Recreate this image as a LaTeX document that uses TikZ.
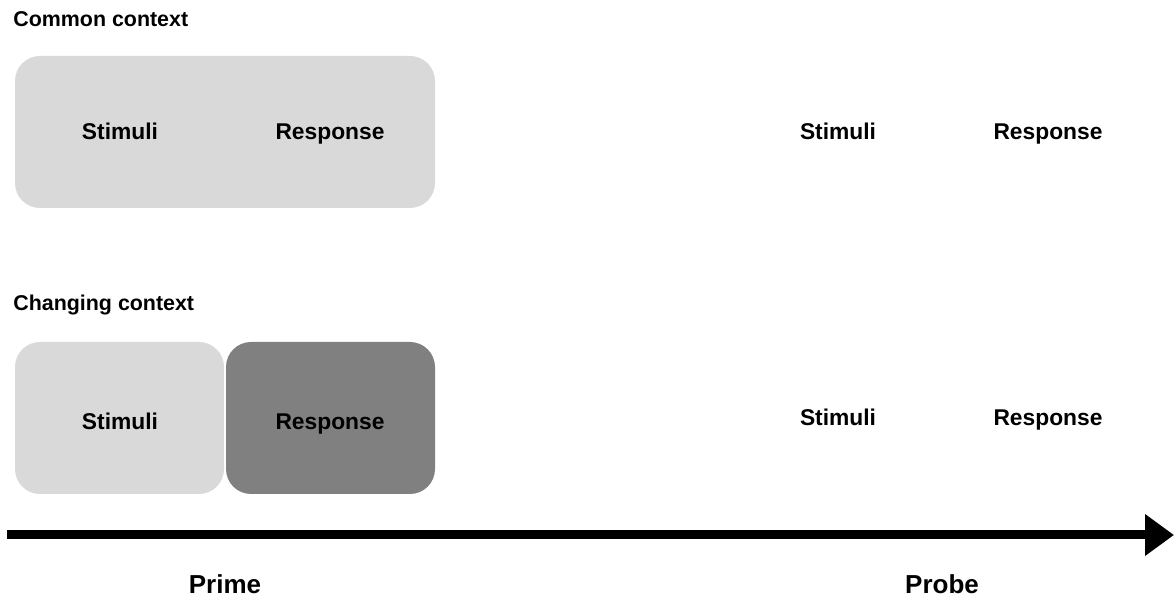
\documentclass[tikz,border=0pt]{standalone}
\usepackage{fontspec}
\setmainfont{Liberation Sans}
\usetikzlibrary{arrows.meta}

\begin{document}
\begin{tikzpicture}[x=0.5pt,y=-0.5pt,
  lbl/.style={font=\bfseries\fontsize{11.4}{13}\selectfont,inner sep=0,text height=8.2pt,text depth=2.4pt},
  ttl/.style={font=\bfseries\fontsize{10.7}{13}\selectfont,inner sep=0,anchor=west,text height=7.7pt,text depth=2.2pt},
  axl/.style={font=\bfseries\fontsize{13}{15}\selectfont,inner sep=0,text height=9.4pt,text depth=2.7pt},
  phase/.style={rounded corners=12.5pt,inner sep=0}]
\definecolor{lightgrey}{HTML}{D9D9D9}
\definecolor{darkgrey}{HTML}{808080}
\useasboundingbox (0,0) rectangle (1174,598);
% common context
\node[ttl] (common) at (13,21) {Common context};
\fill[lightgrey,phase] (15,56) rectangle (435,208);
% changing context
\node[ttl] (changing) at (13,305) {Changing context};
\fill[lightgrey,phase] (15,342) rectangle (224,494);
\fill[darkgrey,phase] (226,342) rectangle (435,494);
  \foreach \name/\txt/\xx/\yy in {cs/Stimuli/120/134,cr/Response/330/134,
    ps/Stimuli/838/134,pr/Response/1048/134,
    hs/Stimuli/120/424,hr/Response/330/424,
    qs/Stimuli/838/420,qr/Response/1048/420}
  {  \node [lbl] (\name) at (\xx,\yy) {\txt};}
% time axis
\coordinate (start) at (7,535);
\coordinate (end) at (1174,535);
\draw[line width=4.5pt,-{Triangle[length=14.5pt,width=20pt]}] (start) -- (end);
\node[axl] (prime) at (225,587) {Prime};
\node[axl] (probe) at (942,587) {Probe};
\end{tikzpicture}
\end{document}
